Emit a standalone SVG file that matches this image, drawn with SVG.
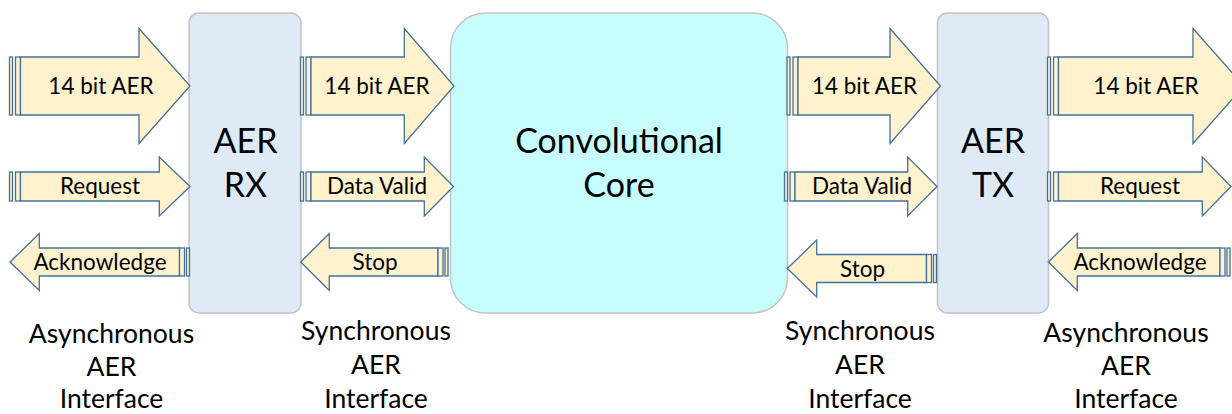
<svg xmlns="http://www.w3.org/2000/svg" width="1232" height="414" viewBox="0 0 1232 414">
<style>
.box{fill:#DEEAF6;stroke:#C4C4C4;stroke-width:1.5}
.core{fill:#C8FDFD;stroke:#C4C4C4;stroke-width:1.5}
.arr{fill:#FFF2CC;stroke:#41719C;stroke-width:1.3;stroke-linejoin:miter}
text{font-family:Lato,"Liberation Sans",sans-serif;fill:#000;text-anchor:middle}
.big{font-size:34px}
.lbl{font-size:22.5px}
.cap{font-size:26.5px}
</style>
<rect width="1232" height="414" fill="#FFFFFF"/>
<g id="aer-rx">
<rect class="box" x="189" y="13" width="112" height="300" rx="10"/>
<text class="big" x="245.5" y="153">AER</text>
<text class="big" x="245.5" y="197">RX</text>
</g>
<g id="conv-core">
<rect class="core" x="450.5" y="13" width="337" height="300" rx="35"/>
<text class="big" x="619" y="153">Convolutional</text>
<text class="big" x="619" y="197">Core</text>
</g>
<g id="aer-tx">
<rect class="box" x="937.5" y="13" width="111" height="300" rx="10"/>
<text class="big" x="993" y="153">AER</text>
<text class="big" x="993" y="197">TX</text>
</g>
<g id="connectors">
<g id="a1">
<rect class="arr" x="9.5" y="57" width="3" height="58"/>
<rect class="arr" x="15.5" y="57" width="5" height="58"/>
<polygon class="arr" points="20.5,57 139,57 139,28.5 190,86 139,143.5 139,115 20.5,115"/>
<text class="lbl" x="101" y="94">14 bit AER</text>
</g>
<g id="a2">
<rect class="arr" x="300.5" y="57" width="3" height="58"/>
<rect class="arr" x="306" y="57" width="5" height="58"/>
<polygon class="arr" points="311,57 404.3,57 404.3,28.5 454,86 404.3,143.5 404.3,115 311,115"/>
<text class="lbl" x="377" y="94">14 bit AER</text>
</g>
<g id="a3">
<rect class="arr" x="787" y="57" width="3" height="58"/>
<rect class="arr" x="793" y="57" width="5" height="58"/>
<polygon class="arr" points="798,57 890,57 890,28.5 940.5,86 890,143.5 890,115 798,115"/>
<text class="lbl" x="864.5" y="94">14 bit AER</text>
</g>
<g id="a4">
<rect class="arr" x="1047.5" y="57" width="3" height="58"/>
<rect class="arr" x="1053.5" y="57" width="5" height="58"/>
<polygon class="arr" points="1058.5,57 1193,57 1193,28.5 1244,86 1193,143.5 1193,115 1058.5,115"/>
<text class="lbl" x="1146" y="94">14 bit AER</text>
</g>
<g id="b1">
<rect class="arr" x="9.5" y="172" width="3" height="29"/>
<rect class="arr" x="15.5" y="172" width="5" height="29"/>
<polygon class="arr" points="20.5,172 159.3,172 159.3,157 190,186.5 159.3,216 159.3,201 20.5,201"/>
<text class="lbl" x="100" y="194">Request</text>
</g>
<g id="b2">
<rect class="arr" x="300.5" y="172" width="3" height="29"/>
<rect class="arr" x="306" y="172" width="5" height="29"/>
<polygon class="arr" points="311,172 424.3,172 424.3,157 453.5,186.5 424.3,216 424.3,201 311,201"/>
<text class="lbl" x="377" y="194">Data Valid</text>
</g>
<g id="b3">
<rect class="arr" x="784.5" y="172" width="3" height="29"/>
<rect class="arr" x="790" y="172" width="5" height="29"/>
<polygon class="arr" points="795,172 907.7,172 907.7,157 937,186.5 907.7,216 907.7,201 795,201"/>
<text class="lbl" x="862" y="194">Data Valid</text>
</g>
<g id="b4">
<rect class="arr" x="1047.5" y="172" width="3" height="29"/>
<rect class="arr" x="1053.5" y="172" width="5" height="29"/>
<polygon class="arr" points="1058.5,172 1202.3,172 1202.3,157 1231,186.5 1202.3,216 1202.3,201 1058.5,201"/>
<text class="lbl" x="1140" y="194">Request</text>
</g>
<g id="c1">
<polygon class="arr" points="179.5,248 39.3,248 39.3,233.5 10,262 39.3,290.5 39.3,276 179.5,276"/>
<rect class="arr" x="179.5" y="248" width="5" height="28"/>
<rect class="arr" x="186.5" y="248" width="3" height="28"/>
<text class="lbl" x="100" y="269.5">Acknowledge</text>
</g>
<g id="c2">
<polygon class="arr" points="438,248 329.3,248 329.3,233.5 300.7,262 329.3,290.5 329.3,276 438,276"/>
<rect class="arr" x="438" y="248" width="5" height="28"/>
<rect class="arr" x="445" y="248" width="3" height="28"/>
<text class="lbl" x="375" y="270">Stop</text>
</g>
<g id="c3">
<polygon class="arr" points="926.5,254.5 816.7,254.5 816.7,240 787.3,268.5 816.7,297 816.7,282.5 926.5,282.5"/>
<rect class="arr" x="926.5" y="254.5" width="5" height="28"/>
<rect class="arr" x="933.5" y="254.5" width="3" height="28"/>
<text class="lbl" x="862.5" y="276.5">Stop</text>
</g>
<g id="c4">
<polygon class="arr" points="1220,248 1077.3,248 1077.3,233.5 1048.3,262 1077.3,290.5 1077.3,276 1220,276"/>
<rect class="arr" x="1220" y="248" width="5" height="28"/>
<rect class="arr" x="1227" y="248" width="3" height="28"/>
<text class="lbl" x="1140" y="270">Acknowledge</text>
</g>
</g>
<g id="captions">
<text class="cap" x="111.5" y="343">Asynchronous</text>
<text class="cap" x="111.5" y="376">AER</text>
<text class="cap" x="111.5" y="408">Interface</text>
<text class="cap" x="376" y="340">Synchronous</text>
<text class="cap" x="376" y="374">AER</text>
<text class="cap" x="376" y="408">Interface</text>
<text class="cap" x="860" y="340">Synchronous</text>
<text class="cap" x="860" y="374">AER</text>
<text class="cap" x="860" y="408">Interface</text>
<text class="cap" x="1126" y="342">Asynchronous</text>
<text class="cap" x="1126" y="375">AER</text>
<text class="cap" x="1126" y="408">Interface</text>
</g>
</svg>
